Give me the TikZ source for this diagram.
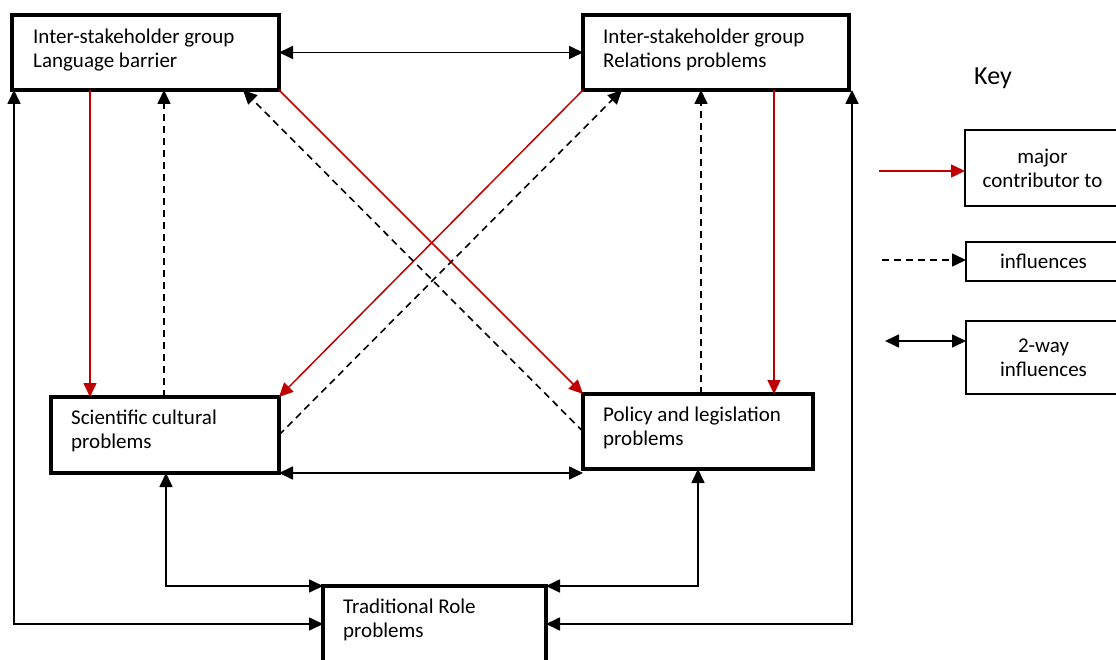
\documentclass[tikz,border=0pt]{standalone}
\usepackage{fontspec}
\setmainfont{Carlito}
\usetikzlibrary{arrows.meta}
\definecolor{darkred}{RGB}{192,0,0}
\begin{document}
\begin{tikzpicture}[x=1pt,y=-1pt,
  box/.style={draw, line width=3.6pt, inner sep=0pt, outer sep=0pt, anchor=north west},
  keybox/.style={draw, line width=1.6pt, inner sep=0pt, outer sep=0pt, anchor=north west, align=center, font=\fontsize{21}{24}\selectfont},
  txt/.style={inner sep=0pt, anchor=west, align=left, font=\fontsize{21}{24}\selectfont},
  tip/.tip={Triangle[length=14pt,width=13pt]},
  arr/.style={-tip, line width=1.7pt},
  dbl/.style={tip-tip, line width=1.7pt},
  redarr/.style={-tip, line width=1.5pt, draw=darkred},
  dsh/.style={-tip, line width=1.6pt, dash pattern=on 7pt off 5pt}]
\useasboundingbox (0,0) rectangle (1116,660);
\clip (0,0) rectangle (1116,660);

% main boxes
\node[box, minimum width=267pt, minimum height=75pt] (A) at (12,15) {};
\node[box, minimum width=266pt, minimum height=75pt] (B) at (583,15) {};
\node[box, minimum width=228pt, minimum height=76pt] (C) at (51,397) {};
\node[box, minimum width=230pt, minimum height=75pt] (D) at (583,394) {};
\node[box, minimum width=223pt, minimum height=76pt] (E) at (323,586) {};

% texts
\node[txt] (At) at (33,50) {Inter-stakeholder group\\Language barrier};
\node[txt] (Bt) at (603,50) {Inter-stakeholder group\\Relations problems};
\node[txt] (Ct) at (71,431) {Scientific cultural\\problems};
\node[txt] (Dt) at (603,428) {Policy and legislation\\problems};
\node[txt] (Et) at (343,620) {Traditional Role\\problems};

% key
\node[inner sep=0pt, font=\fontsize{26}{30}\selectfont] (key) at (993,78) {Key};
\node[keybox, minimum width=155pt, minimum height=76pt] (K1) at (965,130) {major\\contributor to};
\node[keybox, minimum width=155pt, minimum height=39pt] (K2) at (966,242) {influences};
\node[keybox, minimum width=155pt, minimum height=73pt] (K3) at (966,321) {2-way\\influences};

% helper x positions
\coordinate (xL) at (14,0);
\coordinate (xAC) at (90,0);
\coordinate (xCA) at (164,0);
\coordinate (xDA) at (243,0);
\coordinate (xCB) at (622,0);
\coordinate (xDB) at (701,0);
\coordinate (xBD) at (774,0);
\coordinate (xR) at (852,0);
\coordinate (xCE) at (166,0);
\coordinate (xDE) at (698,0);

% connectors
\draw[dbl] (A.east) -- (B.west);
\draw[dbl] (C.south east) -- (C.south east -| D.west);
\draw[redarr] (A.south -| xAC) -- (C.north -| xAC);
\draw[dsh] (C.north -| xCA) -- (A.south -| xCA);
\draw[redarr] (B.south -| xBD) -- (D.north -| xBD);
\draw[dsh] (D.north -| xDB) -- (B.south -| xDB);
\draw[redarr] (A.south east) -- (D.north west);
\draw[redarr] (B.south west) -- (C.north east);
\draw[dsh] (D.west) -- (A.south -| xDA);
\draw[dsh] (C.east) -- (B.south -| xCB);
\draw[dbl] (A.south -| xL) |- (E.west);
\draw[dbl] (B.south -| xR) |- (E.east);
\draw[dbl] (C.south -| xCE) |- (E.north west);
\draw[dbl] (D.south -| xDE) |- (E.north east);

% key arrows
\coordinate (k1) at (879,171);
\coordinate (k2) at (882,260);
\coordinate (k3) at (885,341);
\draw[redarr] (k1) -- (k1 -| K1.west);
\draw[dsh] (k2) -- (k2 -| K2.west);
\draw[dbl] (k3) -- (k3 -| K3.west);
\end{tikzpicture}
\end{document}
